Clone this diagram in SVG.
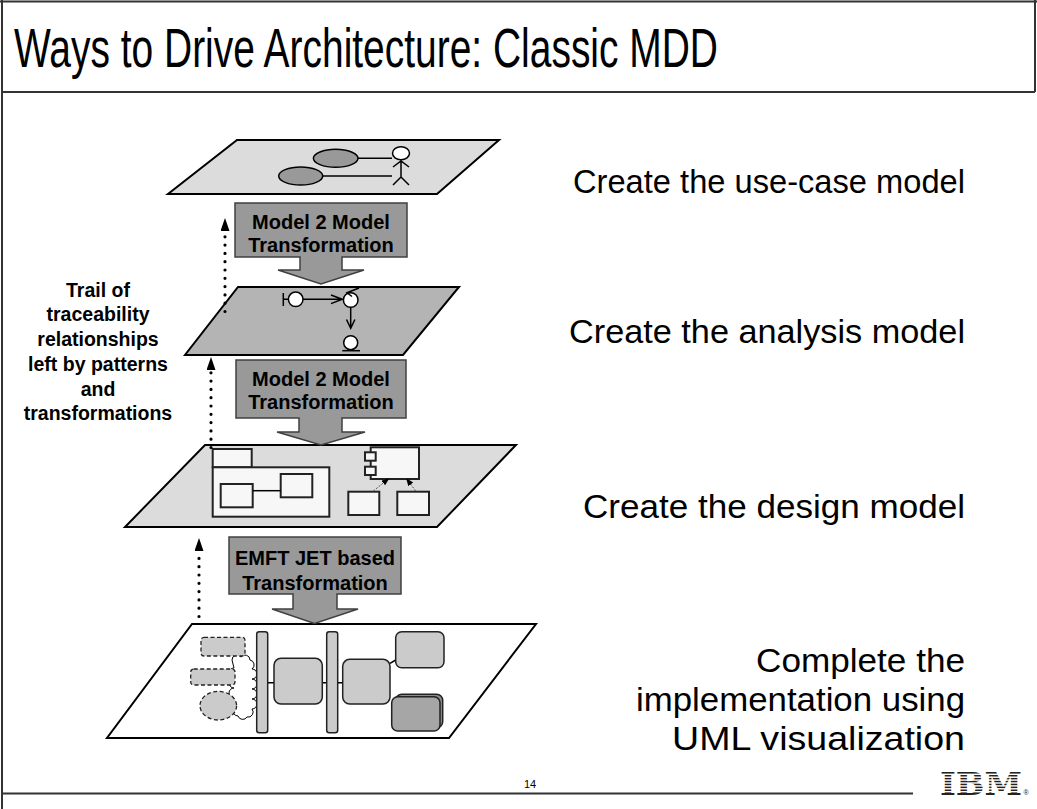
<svg xmlns="http://www.w3.org/2000/svg" width="1037" height="809" viewBox="0 0 1037 809">
<style>
.frame{stroke:#333;stroke-width:2;fill:none}
.plane{stroke:#000;stroke-width:2;stroke-linejoin:miter}
.xf{fill:#999;stroke:#404040;stroke-width:1.5}
.xt{font-family:"Liberation Sans",Arial,sans-serif;font-weight:bold;font-size:20px;fill:#000;text-anchor:middle}
.side{font-family:"Liberation Sans",Arial,sans-serif;font-size:34px;fill:#000;text-anchor:end}
.trail{font-family:"Liberation Sans",Arial,sans-serif;font-weight:bold;font-size:19.5px;fill:#000;text-anchor:middle}
.ln{stroke:#000;stroke-width:1.5;fill:none}
.box{fill:#f7f7f7;stroke:#222;stroke-width:2}
.dots{stroke:#000;stroke-width:3.2;stroke-linecap:round;stroke-dasharray:0 8.3;fill:none}
.thin{stroke:#555;stroke-width:1;stroke-dasharray:2 1.5;fill:none}
.rbox{fill:#cbcbcb;stroke:#222;stroke-width:1.5}
.dash{fill:#cbcbcb;stroke:#222;stroke-width:1.3;stroke-dasharray:4 2.5}
</style>
<defs>
<marker id="tri" markerUnits="userSpaceOnUse" markerWidth="14" markerHeight="12" refX="0" refY="4.5" orient="auto">
<path d="M0,0 L13,4.5 L0,9 z" fill="#000"/>
</marker>
<marker id="sm" markerUnits="userSpaceOnUse" markerWidth="10" markerHeight="8" refX="8" refY="3" orient="auto">
<path d="M0,0 L8,3 L0,6 z" fill="#000"/>
</marker>
</defs>

<rect width="1037" height="809" fill="#fff"/>

<!-- slide frame -->
<g id="frame">
<line class="frame" x1="0" y1="1.5" x2="1037" y2="1.5"/>
<line class="frame" x1="2" y1="0" x2="2" y2="809"/>
<line class="frame" x1="1035" y1="0" x2="1035" y2="92"/>
<line class="frame" x1="2" y1="92" x2="1035" y2="92"/>
<line class="frame" x1="2" y1="793.5" x2="913" y2="793.5"/>
</g>

<text x="14" y="67" font-family="'Liberation Sans Narrow','Liberation Sans',Arial,sans-serif" font-size="55" textLength="704" lengthAdjust="spacingAndGlyphs" fill="#000">Ways to Drive Architecture: Classic MDD</text>

<!-- use-case model plane -->
<g id="usecase-plane">
<polygon class="plane" fill="#dcdcdc" points="237,140 499,140 437,194 168,194"/>
<ellipse cx="335.7" cy="158.3" rx="22.3" ry="9" fill="#999" stroke="#000" stroke-width="1.5"/>
<ellipse cx="300.7" cy="176" rx="22" ry="9" fill="#999" stroke="#000" stroke-width="1.5"/>
<line class="ln" x1="358" y1="158.3" x2="392" y2="158.3"/>
<line class="ln" x1="322.7" y1="176" x2="392" y2="176"/>
<ellipse cx="401" cy="153.3" rx="8.5" ry="6.5" fill="#fff" stroke="#000" stroke-width="1.5"/>
<path class="ln" d="M401,160 V177 M393,167 L401,161 L409,167 M393,185 L401,177 L409,185"/>
</g>

<!-- analysis model plane -->
<g id="analysis-plane">
<polygon class="plane" fill="#b4b4b4" points="238,287 459,287 403,355 185,355"/>
<path class="ln" d="M283.3,293 V306 M283.3,299.3 H288.4"/>
<circle cx="295.7" cy="299.3" r="7.3" fill="#fff" stroke="#000" stroke-width="1.5"/>
<path class="ln" d="M303,299.3 H342.3 M331,295 L342.3,299.3 L331,303.6"/>
<circle cx="350.7" cy="300" r="7.3" fill="#fff" stroke="#000" stroke-width="1.5"/>
<path class="ln" d="M359,288 L347,292.8 L352,296.5"/>
<path class="ln" d="M350.7,307.5 V328.3 M346.5,319.5 L350.7,328.3 L354.9,319.5"/>
<circle cx="350.7" cy="342.7" r="7" fill="#fff" stroke="#000" stroke-width="1.5"/>
<line class="ln" x1="342.3" y1="350.7" x2="360" y2="350.7"/>
</g>

<!-- design model plane -->
<g id="design-plane">
<polygon class="plane" fill="#dcdcdc" points="205,445 516,445 437,527 125,527"/>
<rect class="box" x="212.7" y="449" width="39" height="18.3"/>
<rect class="box" x="212.7" y="467.3" width="116.6" height="49.4"/>
<rect class="box" x="220.7" y="484" width="32" height="23.3"/>
<rect class="box" x="280.7" y="474" width="31.6" height="23.3"/>
<line class="ln" x1="252.7" y1="490.7" x2="280.7" y2="490.7"/>
<rect class="box" x="370.7" y="447.3" width="48.3" height="31.7"/>
<rect class="box" x="365" y="452.3" width="10.7" height="8.4" stroke-width="1.5"/>
<rect class="box" x="365" y="466.7" width="10.7" height="8.3" stroke-width="1.5"/>
<rect class="box" x="348.3" y="491.7" width="31" height="23.3"/>
<rect class="box" x="397.3" y="491.7" width="31.7" height="23.3"/>
<line class="thin" x1="373.3" y1="491" x2="389.5" y2="478" marker-end="url(#sm)"/>
<line class="thin" x1="415.7" y1="491" x2="406" y2="478" marker-end="url(#sm)"/>
</g>

<!-- implementation plane -->
<g id="implementation-plane">
<polygon class="plane" fill="#fff" points="192,624 536,624 449,738 107,738"/>
<path d="M232,660 a5,5 0 0 1 9,-3 a5,5 0 0 1 9,3 a5,5 0 0 1 2,9 a5,5 0 0 1 0,10 a5,5 0 0 1 0,10 a5,5 0 0 1 0,10 a5,5 0 0 1 0,10 a5,5 0 0 1 -5,8 a5,5 0 0 1 -9,-1 a5,5 0 0 1 -4,-8 a5,5 0 0 1 0,-10 a5,5 0 0 1 0,-10 a5,5 0 0 1 0,-10 a5,5 0 0 1 0,-10 z" fill="#fff" stroke="#000" stroke-width="1"/>
<rect class="dash" x="201" y="637.3" width="44" height="18.7" rx="3"/>
<rect class="dash" x="190.7" y="669" width="44.3" height="16" rx="3"/>
<ellipse class="dash" cx="218.3" cy="705.7" rx="18.3" ry="14.3"/>
<path class="ln" d="M267.7,682.7 H274 M322.3,682.7 H326.7 M337.7,682.7 H342.7 M390,663.3 L395.7,660" stroke-width="1.2"/>
<rect class="rbox" x="256.7" y="631.7" width="11" height="101" rx="2.5"/>
<rect class="rbox" x="326.7" y="631.7" width="11" height="101" rx="2.5"/>
<rect class="rbox" x="274" y="658.3" width="48.3" height="45.7" rx="7"/>
<rect class="rbox" x="342.7" y="659.3" width="47.3" height="44.7" rx="7"/>
<rect class="rbox" x="395.7" y="631.7" width="48.3" height="36" rx="6"/>
<rect x="395.7" y="694.3" width="47" height="33.4" rx="6" fill="#8c8c8c" stroke="#222" stroke-width="1.5"/>
<rect x="391.7" y="696.7" width="48.3" height="34.3" rx="6" fill="#a6a6a6" stroke="#222" stroke-width="1.5"/>
</g>

<!-- transformation callouts -->
<g id="m2m-upper">
<polygon class="xf" points="235,203 407,203 407,257 342,257 342,270 364,270 321,284 278,270 300,270 300,257 235,257"/>
<text class="xt" x="321" y="229">Model 2 Model</text>
<text class="xt" x="321" y="251.5">Transformation</text>
</g>
<g id="m2m-lower">
<polygon class="xf" points="236,360 406,360 406,418 342,418 342,432 365,432 321,445 277,432 299,432 299,418 236,418"/>
<text class="xt" x="321" y="386">Model 2 Model</text>
<text class="xt" x="321" y="409">Transformation</text>
</g>
<g id="emft-jet">
<polygon class="xf" points="229,537 401,537 401,594 337,594 337,609 358,609 314.5,623.5 272,609 293,609 293,594 229,594"/>
<text class="xt" x="315" y="565">EMFT JET based</text>
<text class="xt" x="315" y="590">Transformation</text>
</g>

<!-- traceability trail -->
<g id="connectors">
<line class="dots" x1="225" y1="311.5" x2="225" y2="231" marker-end="url(#tri)"/>
<line class="dots" x1="211" y1="447.5" x2="211" y2="370" marker-end="url(#tri)"/>
<line class="dots" x1="199" y1="616.5" x2="199" y2="551" marker-end="url(#tri)"/>
</g>

<g id="trail-label">
<text class="trail" x="98" y="296.7">Trail of</text>
<text class="trail" x="98" y="321.4">traceability</text>
<text class="trail" x="98" y="346.1">relationships</text>
<text class="trail" x="98" y="370.8">left by patterns</text>
<text class="trail" x="98" y="395.5">and</text>
<text class="trail" x="98" y="420.2">transformations</text>
</g>

<g id="step-labels">
<text class="side" x="965" y="193" textLength="392" lengthAdjust="spacingAndGlyphs">Create the use-case model</text>
<text class="side" x="965" y="343" textLength="396" lengthAdjust="spacingAndGlyphs">Create the analysis model</text>
<text class="side" x="965" y="518" textLength="382" lengthAdjust="spacingAndGlyphs">Create the design model</text>
<text class="side" x="965" y="672" textLength="209" lengthAdjust="spacingAndGlyphs">Complete the</text>
<text class="side" x="965" y="711" textLength="329" lengthAdjust="spacingAndGlyphs">implementation using</text>
<text class="side" x="965" y="750" textLength="293" lengthAdjust="spacingAndGlyphs">UML visualization</text>
</g>

<text x="530" y="788" font-family="'Liberation Sans',Arial,sans-serif" font-size="11" text-anchor="middle" fill="#000">14</text>

<!-- striped logo -->
<g id="logo">
<text x="940" y="795" font-family="'DejaVu Serif','Liberation Serif',serif" font-weight="bold" font-size="32" textLength="82" lengthAdjust="spacingAndGlyphs" fill="#222">IBM</text>
<g fill="#fff">
<rect x="936" y="773.6" width="90" height="1.4"/>
<rect x="936" y="776.5" width="90" height="1.4"/>
<rect x="936" y="779.4" width="90" height="1.4"/>
<rect x="936" y="782.3" width="90" height="1.4"/>
<rect x="936" y="785.2" width="90" height="1.4"/>
<rect x="936" y="788.1" width="90" height="1.4"/>
<rect x="936" y="791" width="90" height="1.4"/>
</g>
<text x="1023.5" y="795" font-family="'Liberation Sans',Arial,sans-serif" font-size="7" fill="#222">®</text>
</g>
</svg>
